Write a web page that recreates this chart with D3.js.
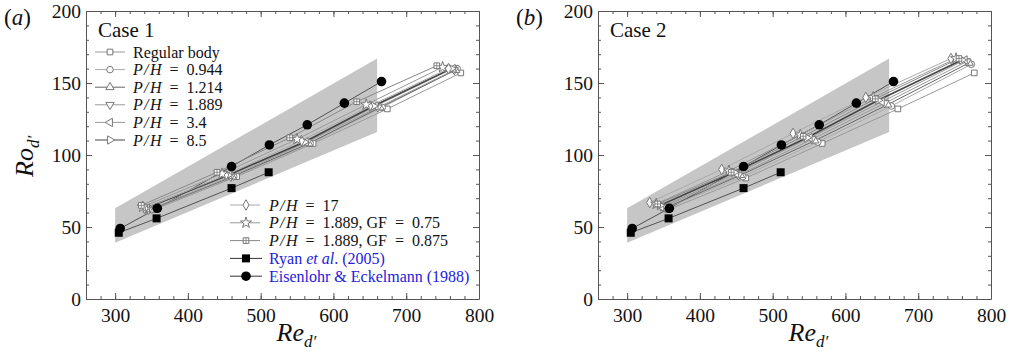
<!DOCTYPE html>
<html>
<head>
<meta charset="utf-8">
<script src="https://cdn.jsdelivr.net/npm/d3@7"></script>
<style>
  body { margin: 0; background: #fff; }
  text { font-family: "Liberation Serif", "Times New Roman", Times, serif; }
</style>
</head>
<body>
<div id="chart"></div>
<script>
// series of the present study, same order in both panels
const seriesNames = ["Regular body", "0.944", "1.214", "1.889", "3.4", "8.5", "17", "GF0.75", "GF0.875"];
const seriesSymbols = ["square", "circle", "triUp", "triDown", "triLeft", "triRight", "diamond", "star", "squareCross"];
const seriesStroke = ["#999", "#aaa", "#666", "#999", "#999", "#444", "#aaa", "#999", "#888"];

// Case 1
const case1Re = [
  [353, 467, 572, 674, 775],
  [350, 463, 568, 667, 770],
  [348, 461, 566, 664, 768],
  [346, 459, 564, 661, 766],
  [344, 457, 562, 658, 764],
  [342, 455, 560, 655, 762],
  [341, 452, 556, 650, 758],
  [338, 447, 550, 645, 750],
  [336, 440, 540, 632, 742]
];
const case1Ro = [
  [62, 85, 108, 132, 157],
  [62, 85, 108, 133, 160],
  [62, 85, 108, 133, 159],
  [62, 85, 109, 133, 159],
  [63, 86, 109, 134, 160],
  [63, 86, 109, 134, 160],
  [63, 86, 110, 134, 160],
  [64, 87, 111, 135, 161],
  [65, 88, 112, 137, 162]
];

// Case 2
const case2Re = [
  [356, 463, 568, 672, 777],
  [353, 459, 562, 663, 773],
  [351, 456, 558, 658, 770],
  [349, 453, 554, 654, 767],
  [347, 450, 551, 650, 764],
  [345, 447, 547, 645, 760],
  [331, 430, 528, 628, 745],
  [340, 440, 538, 638, 752],
  [342, 443, 542, 641, 756]
];
const case2Ro = [
  [62, 84, 108, 132, 157],
  [63, 85, 109, 134, 163],
  [63, 86, 110, 135, 164],
  [64, 86, 111, 136, 165],
  [64, 87, 112, 137, 166],
  [65, 88, 112, 138, 166],
  [67, 90, 115, 140, 167],
  [66, 89, 114, 140, 167],
  [66, 88, 113, 139, 167]
];

// reference data
const ryanRe = [305, 357, 460, 511];
const ryanRo = [46, 56, 77, 88];
const eisRe = [307, 358, 460, 512, 564, 615, 666];
const eisRo = [49, 63, 92, 107, 121, 136, 151];

// grey band
const bandRe = [300, 660];
const bandLow = [39, 116];
const bandHigh = [63, 167];

const xTicks = [300, 400, 500, 600, 700, 800];
const yTicks = [0, 50, 100, 150, 200];

const blue = "#2222dd";
const svg = d3.select("#chart").append("svg").attr("width", 1011).attr("height", 363);

const pw = 393, ph = 288, plotTop = 11;
const x = d3.scaleLinear().domain([260, 800]).range([0, pw]);
const y = d3.scaleLinear().domain([0, 200]).range([ph, 0]);

function symbolPath(kind, size) {
  const map = {
    square: d3.symbolSquare, squareCross: d3.symbolSquare, circle: d3.symbolCircle,
    triUp: d3.symbolTriangle, triDown: d3.symbolTriangle, triLeft: d3.symbolTriangle,
    triRight: d3.symbolTriangle, diamond: d3.symbolDiamond, star: d3.symbolStar
  };
  return d3.symbol().type(map[kind]).size(size)();
}
const rotations = { triDown: 180, triLeft: -90, triRight: 90 };

function marker(g, kind, cx, cy, stroke) {
  const s = g.append("g").attr("transform", `translate(${cx},${cy}) rotate(${rotations[kind] || 0})`);
  const size = kind === "star" ? 38 : kind === "circle" ? 34 : kind.startsWith("tri") ? 30 : 32;
  s.append("path").attr("d", symbolPath(kind, size))
    .attr("fill", "#fff").attr("stroke", stroke).attr("stroke-width", 1);
  if (kind === "squareCross") {
    s.append("path").attr("d", "M-2.8,0H2.8M0,-2.8V2.8").attr("stroke", stroke).attr("stroke-width", 0.8);
  }
}

function richText(g, tx, ty, parts, color, size) {
  const t = g.append("text").attr("x", tx).attr("y", ty).attr("dy", "0.35em")
    .attr("font-size", size).attr("fill", color);
  parts.forEach(p => t.append("tspan").attr("font-style", p[1] ? "italic" : "normal").text(p[0]));
  return t;
}

function drawPanel(left, re, ro, label, caseText, yTitle) {
  const g = svg.append("g").attr("transform", `translate(${left},${plotTop})`);

  // band
  const band = [[bandRe[0], bandLow[0]], [bandRe[0], bandHigh[0]], [bandRe[1], bandHigh[1]], [bandRe[1], bandLow[1]]];
  g.append("path").attr("d", "M" + band.map(d => [x(d[0]), y(d[1])].join(",")).join("L") + "Z")
    .attr("fill", "#c6c6c6");

  const line = d3.line().x(d => x(d[0])).y(d => y(d[1]));

  // reference lines
  const ryan = ryanRe.map((v, i) => [v, ryanRo[i]]);
  const eis = eisRe.map((v, i) => [v, eisRo[i]]);
  g.append("path").attr("d", line(ryan)).attr("fill", "none").attr("stroke", "#333").attr("stroke-width", 0.8);
  g.append("path").attr("d", line(eis)).attr("fill", "none").attr("stroke", "#333").attr("stroke-width", 0.8);

  // present study
  re.forEach((r, i) => {
    const pts = r.map((v, j) => [v, ro[i][j]]);
    g.append("path").attr("d", line(pts)).attr("fill", "none")
      .attr("stroke", seriesStroke[i]).attr("stroke-width", i === 5 ? 1.6 : 1);
  });
  re.forEach((r, i) => {
    r.forEach((v, j) => marker(g, seriesSymbols[i], x(v), y(ro[i][j]), "#777"));
  });

  g.selectAll(".ryan").data(ryan).join("path").attr("class", "ryan")
    .attr("transform", d => `translate(${x(d[0])},${y(d[1])})`)
    .attr("d", d3.symbol().type(d3.symbolSquare).size(64)).attr("fill", "#000");
  g.selectAll(".eis").data(eis).join("path").attr("class", "eis")
    .attr("transform", d => `translate(${x(d[0])},${y(d[1])})`)
    .attr("d", d3.symbol().type(d3.symbolCircle).size(72)).attr("fill", "#000");

  // axes with inward ticks on all four sides
  const minorX = d3.range(280, 801, 20), minorY = d3.range(0, 201, 10);
  const makers = [() => d3.axisBottom(x), () => d3.axisTop(x), () => d3.axisLeft(y), () => d3.axisRight(y)];
  const shifts = [`translate(0,${ph})`, "translate(0,0)", "translate(0,0)", `translate(${pw},0)`];
  makers.forEach((mk, k) => {
    const isX = k < 2;
    g.append("g").attr("transform", shifts[k])
      .call(mk().tickValues(isX ? minorX : minorY).tickSizeInner(-3).tickSizeOuter(0).tickFormat(""))
      .call(a => a.select(".domain").remove())
      .call(a => a.selectAll("line").attr("stroke", "#555"));
    const axis = mk().tickValues(isX ? xTicks : yTicks).tickSizeInner(-6).tickSizeOuter(0)
      .tickPadding(isX ? 9 : 5);
    if (k % 2 === 1) axis.tickFormat("");
    g.append("g").attr("transform", shifts[k]).call(axis)
      .call(a => a.select(".domain").attr("stroke", "#555"))
      .call(a => a.selectAll("line").attr("stroke", "#555"))
      .call(a => a.selectAll("text").attr("font-size", 19.5).attr("fill", "#111")
        .attr("font-family", "Liberation Serif, serif"));
  });

  // case label
  g.append("text").attr("x", 12).attr("y", 26).attr("font-size", 21).attr("fill", "#111").text(caseText);

  // panel label
  richText(svg, left - 82, plotTop + 6, [["(", false], [label, true], [")", false]], "#111", 23);

  // axis titles
  const xt = g.append("text").attr("x", pw / 2 - 6).attr("y", 341 - plotTop).attr("font-size", 26).attr("fill", "#111");
  xt.append("tspan").attr("font-style", "italic").text("Re");
  xt.append("tspan").attr("font-style", "italic").attr("font-size", 17).attr("dy", 6).text("d′");
  if (yTitle) {
    const yt = g.append("text").attr("transform", `translate(-53,${ph / 2 + 22}) rotate(-90)`)
      .attr("font-size", 26).attr("fill", "#111");
    yt.append("tspan").attr("font-style", "italic").text("Ro");
    yt.append("tspan").attr("font-style", "italic").attr("font-size", 17).attr("dy", 6).text("d′");
  }
  return g;
}

drawPanel(86, case1Re, case1Ro, "a", "Case 1", true);
drawPanel(598, case2Re, case2Ro, "b", "Case 2", false);

// legend (panel a); math-style spacing around "/" and "="
const PH = "P\u200A/\u200AH";
const EQ = "\u2002=\u2002";
const legendText = [
  [["Regular body", false]],
  [[PH, true], [EQ + "0.944", false]],
  [[PH, true], [EQ + "1.214", false]],
  [[PH, true], [EQ + "1.889", false]],
  [[PH, true], [EQ + "3.4", false]],
  [[PH, true], [EQ + "8.5", false]],
  [[PH, true], [EQ + "17", false]],
  [[PH, true], [EQ + "1.889, GF" + EQ + "0.75", false]],
  [[PH, true], [EQ + "1.889, GF" + EQ + "0.875", false]]
];
const leg = svg.append("g");
legendText.forEach((parts, i) => {
  const first = i < 6;
  const lx = first ? 95 : 230, mx = first ? 110 : 246, tx = first ? 133 : 269;
  const ly = first ? 52 + i * 17.6 : 205 + (i - 6) * 17.8;
  leg.append("line").attr("x1", lx).attr("x2", lx + 30).attr("y1", ly).attr("y2", ly)
    .attr("stroke", seriesStroke[i]).attr("stroke-width", 1);
  marker(leg, seriesSymbols[i], mx, ly, "#777");
  richText(leg, tx, ly, parts, "#111", 16);
});
// reference entries
[["square", [["Ryan ", false], ["et al", true], [". (2005)", false]]],
 ["circle", [["Eisenlohr & Eckelmann (1988)", false]]]].forEach((e, k) => {
  const ly = 205 + (3 + k) * 17.8;
  leg.append("line").attr("x1", 230).attr("x2", 262).attr("y1", ly).attr("y2", ly).attr("stroke", "#333");
  leg.append("path").attr("transform", `translate(246,${ly})`)
    .attr("d", d3.symbol().type(e[0] === "square" ? d3.symbolSquare : d3.symbolCircle).size(e[0] === "square" ? 64 : 72))
    .attr("fill", "#000");
  richText(leg, 269, ly, e[1], blue, 16);
});
</script>
</body>
</html>
